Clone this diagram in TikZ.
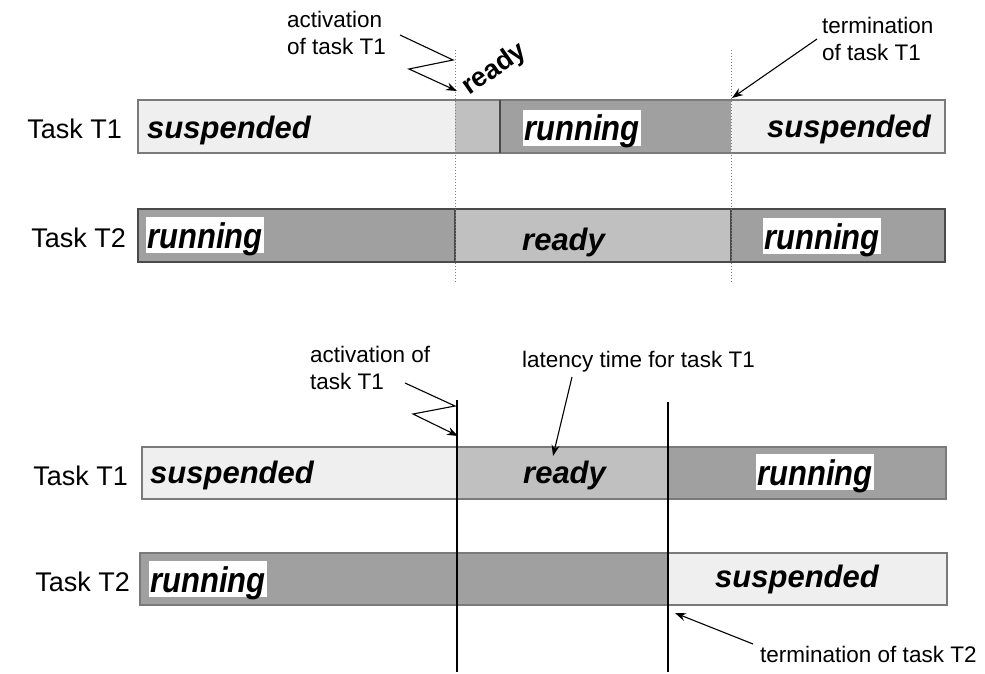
\documentclass[tikz,border=0pt]{standalone}
\usepackage{fontspec}
\setmainfont{Liberation Sans}
\usepackage{graphicx}
\usetikzlibrary{arrows.meta}
\definecolor{suspcol}{HTML}{EFEFEF}
\definecolor{readycol}{HTML}{C0C0C0}
\definecolor{runcol}{HTML}{A0A0A0}
\definecolor{edgecol}{HTML}{7A7A7A}
\definecolor{darkedge}{HTML}{4A4A4A}
\newcommand{\runtext}{\scalebox{1}[1.15]{running}}
\begin{document}
\begin{tikzpicture}[x=1pt,y=-1pt,
  barframe/.style={draw=edgecol, line width=1.2pt},
  state/.style={inner sep=0pt, anchor=base west, font=\fontsize{31}{31}\selectfont\bfseries\itshape},
  runlbl/.style={state, fill=white, text height=31pt, text depth=5pt, inner xsep=1pt},
  tasklbl/.style={inner sep=0pt, anchor=base east, font=\fontsize{27}{27}\selectfont},
  note/.style={inner sep=0pt, anchor=north west, align=left, font=\fontsize{22.5}{27}\selectfont},
  pointer/.style={line width=1.1pt, -{Stealth[length=11pt,width=8pt]}},
  marker/.style={line width=1pt, dotted, draw=gray},
  cut/.style={line width=1.1pt, draw=black},
]
\useasboundingbox (0,0) rectangle (985,674);

% ---------- upper schedule ----------
% task T1
\fill[suspcol]  (138,100) rectangle (455,153);
\fill[readycol] (455,100) rectangle (500,153);
\fill[runcol]   (500,100) rectangle (731,153);
\fill[suspcol]  (731,100) rectangle (945,153);
\draw[barframe] (138,100) rectangle (945,153);
\draw[line width=1.2pt, draw=darkedge] (500,100) -- (500,153);
% task T2
\fill[runcol]   (138,209) rectangle (455,262);
\fill[readycol] (455,209) rectangle (731,262);
\fill[runcol]   (731,209) rectangle (945,262);
\draw[line width=1.2pt, draw=darkedge] (138,209) rectangle (945,262);
\draw[line width=1.2pt, draw=darkedge] (455,209) -- (455,262) (731,209) -- (731,262);
% event markers
\draw[marker] (455,50) -- (455,282);
\draw[marker] (731,50) -- (731,282);

\node[tasklbl] (ut1) at (122,139) {Task T1};
\node[tasklbl] (ut2) at (126,247) {Task T2};

\node[state]  (us1) at (147,139) {suspended};
\node[runlbl] (ur1) at (523,141) {\runtext};
\node[state]  (us2) at (767,138) {suspended};
\node[runlbl] (ur2) at (146,248) {\runtext};
\node[state]  (urd) at (522,250) {ready};
\node[runlbl] (ur3) at (763,249) {\runtext};

\node[state, font=\fontsize{27}{27}\selectfont\bfseries, rotate=35] (urdy) at (469,96) {ready};

\node[note] (uact) at (287,11) {activation\\of task T1};
\node[note] (uterm) at (822,17) {termination\\of task T1};

\coordinate (ua0) at (400,35);
\coordinate (ua1) at (453,60);
\coordinate (ua2) at (409,69);
\coordinate (ua3) at (457,91);
\draw[pointer] (ua0) -- (ua1) -- (ua2) -- (ua3);
\coordinate (ut0) at (817,39);
\coordinate (ut3) at (732,98);
\draw[pointer] (ut0) -- (ut3);

% ---------- lower schedule ----------
% task T1
\fill[suspcol]  (142,447) rectangle (457,499);
\fill[readycol] (457,447) rectangle (668,499);
\fill[runcol]   (668,447) rectangle (946,499);
\draw[barframe] (142,447) rectangle (946,499);
% task T2
\fill[runcol]   (140,553) rectangle (668,605);
\fill[suspcol]  (668,553) rectangle (947,605);
\draw[barframe] (140,553) rectangle (947,605);
% event markers
\draw[cut] (457,400) -- (457,672);
\draw[cut] (668,402) -- (668,672);

\node[tasklbl] (lt1) at (128,485) {Task T1};
\node[tasklbl] (lt2) at (130,591) {Task T2};

\node[state]  (ls1) at (150,483) {suspended};
\node[state]  (lrd) at (523,483) {ready};
\node[runlbl] (lr1) at (756,485) {\runtext};
\node[runlbl] (lr2) at (149,592) {\runtext};
\node[state]  (ls2) at (715,587) {suspended};

\node[note] (lact) at (310,346) {activation of\\task T1};
\node[note] (llat) at (522,351) {latency time for task T1};
\node[note] (lterm) at (760,646) {termination of task T2};

\coordinate (la0) at (405,383);
\coordinate (la1) at (455,406);
\coordinate (la2) at (413,414);
\coordinate (la3) at (458,436);
\draw[pointer] (la0) -- (la1) -- (la2) -- (la3);
\coordinate (ll0) at (572,377);
\coordinate (ll3) at (553,456);
\draw[pointer] (ll0) -- (ll3);
\coordinate (lt0) at (753,644);
\coordinate (lt3) at (675,613);
\draw[pointer] (lt0) -- (lt3);
\end{tikzpicture}
\end{document}
